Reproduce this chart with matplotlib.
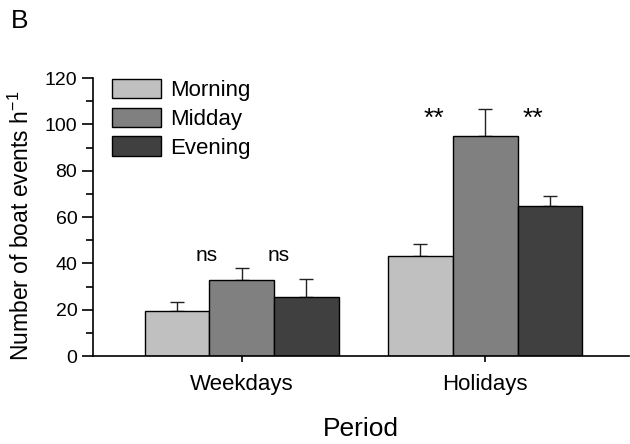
import matplotlib
matplotlib.use('Agg')
import matplotlib.pyplot as plt
from matplotlib.ticker import MultipleLocator
import numpy as np

plt.rcParams['font.family'] = ['Liberation Sans', 'DejaVu Sans']

periods = ['Weekdays', 'Holidays']
times = ['Morning', 'Midday', 'Evening']
colors = ['#c0c0c0', '#808080', '#404040']
means = {
    'Morning': [19.6, 43.3],
    'Midday': [32.8, 95.0],
    'Evening': [25.3, 64.9],
}
errors = {
    'Morning': [3.6, 4.9],
    'Midday': [5.2, 11.7],
    'Evening': [8.1, 4.3],
}
# significance labels: (x, y, text)
sig_x = [0.855, 1.15, 1.79, 2.195]
sig_y = [43.5, 43.5, 102.5, 102.5]
sig_text = ['ns', 'ns', '**', '**']
sig_size = [15, 15, 19, 19]

fig = plt.figure(figsize=(6.3, 4.44), dpi=100)
ax = fig.add_axes([0.148, 0.198, 0.85, 0.626])

x = np.array([1.0, 2.0])
w = 0.266
for i, t in enumerate(times):
    ax.bar(x + (i - 1) * w, means[t], w, color=colors[i], edgecolor='black',
           linewidth=1.0, label=t, zorder=2)
    ax.errorbar(x + (i - 1) * w, means[t], yerr=[np.zeros(2), errors[t]],
                fmt='none', ecolor='#222222', elinewidth=1.0, capsize=5,
                capthick=1.0, zorder=1)

for sx, sy, st, fs in zip(sig_x, sig_y, sig_text, sig_size):
    ax.text(sx, sy, st, ha='center', va='center', fontsize=fs)

ax.set_xlim(0.39, 2.59)
ax.set_ylim(0, 120)
ax.set_xticks(x)
ax.set_xticklabels(periods, fontsize=16)
ax.yaxis.set_major_locator(MultipleLocator(20))
ax.yaxis.set_minor_locator(MultipleLocator(10))
ax.tick_params(axis='y', which='major', length=8, width=1.2, labelsize=14, direction='out')
ax.tick_params(axis='y', which='minor', length=5, width=1.2, direction='out')
ax.tick_params(axis='x', length=4, width=1.2, pad=9)
for s in ['top', 'right']:
    ax.spines[s].set_visible(False)
for s in ['left', 'bottom']:
    ax.spines[s].set_linewidth(1.2)

ax.set_ylabel('Number of boat events h$^{\\mathregular{-1}}$', fontsize=16.5)
ax.yaxis.set_label_coords(-0.110, 0.47)
ax.set_xlabel('Period', fontsize=19, labelpad=16)

ax.legend(loc='upper left', bbox_to_anchor=(0.019, 1.03), frameon=False, fontsize=16,
          handlelength=2.2, handleheight=0.95, labelspacing=0.3, handletextpad=0.4,
          borderaxespad=0.0)

fig.text(0.018, 0.952, 'B', fontsize=19, ha='left', va='center')

fig.savefig('out.png', dpi=100)
